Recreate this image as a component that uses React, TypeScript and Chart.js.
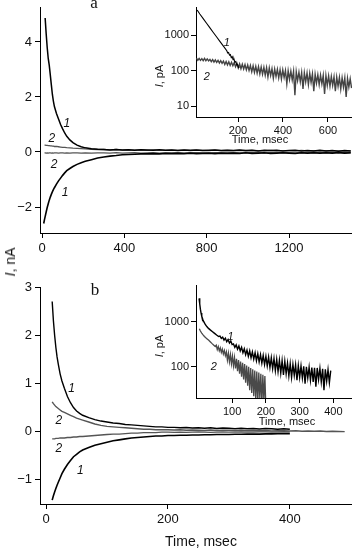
import React, { useEffect, useRef } from "react";
import { Chart, registerables } from "chart.js";

Chart.register(...registerables);

const SANS = "'Liberation Sans', Arial, Helvetica, sans-serif";
const SERIF = "'Liberation Serif', 'Times New Roman', Times, serif";
const INK = "#111";

// ---------------- Panel a (main, nA vs msec) ----------------
const A_TIME = [8, 12, 15, 20, 25, 30, 35, 40, 45, 50, 55, 60, 70, 80, 90, 100, 110, 120, 135, 150, 170, 190, 210, 240, 270,
  300, 330, 360, 390, 420, 450, 480, 510, 540, 570, 600, 630, 660, 690, 720, 750, 780, 810, 840, 870, 900, 930, 960, 990,
  1020, 1050, 1080, 1110, 1140, 1170, 1200, 1230, 1260, 1290, 1320, 1350, 1380, 1410, 1440, 1470, 1500];
const A_UP1 = [null, null, 4.87, 4.3, 3.8, 3.4, 3.15, 2.8, 2.45, 2.1, 1.85, 1.65, 1.4, 1.2, 1.0, 0.84, 0.69, 0.57, 0.44, 0.34, 0.25, 0.19, 0.15, 0.12, 0.1,
  0.09, 0.07, 0.09, 0.07, 0.08, 0.06, 0.08, 0.07, 0.06, 0.08, 0.06, 0.07, 0.05, 0.07, 0.06, 0.07, 0.05, 0.06, 0.07, 0.05,
  0.06, 0.05, 0.07, 0.05, 0.06, 0.04, 0.06, 0.05, 0.06, 0.04, 0.05, 0.06, 0.04, 0.05, 0.04, 0.06, 0.04, 0.05, 0.03, 0.05, 0.04];
const A_UP2 = [null, 0.25, 0.25, 0.24, 0.24, 0.23, 0.23, 0.22, 0.22, 0.21, 0.21, 0.2, 0.2, 0.19, 0.18, 0.17, 0.17, 0.16, 0.15, 0.14, 0.13, 0.12, 0.11, 0.1, 0.09,
  0.09, 0.08, 0.09, 0.07, 0.08, 0.07, 0.08, 0.06, 0.08, 0.07, 0.06, 0.07, 0.06, 0.07, 0.05, 0.07, 0.06, 0.05, 0.07, 0.05,
  0.06, 0.05, 0.06, 0.04, 0.06, 0.05, 0.04, 0.06, 0.04, 0.05, 0.05, 0.04, 0.06, 0.04, 0.05, 0.03, 0.05, 0.04, 0.04, 0.03, 0.04];
const A_LO2 = [null, -0.03, -0.03, -0.04, -0.03, -0.04, -0.03, -0.03, -0.04, -0.03, -0.04, -0.03, -0.03, -0.04, -0.03, -0.03, -0.04, -0.03, -0.04, -0.03, -0.03, -0.04, -0.03, -0.04, -0.03,
  -0.03, -0.04, -0.02, -0.04, -0.03, -0.02, -0.04, -0.03, -0.02, -0.04, -0.03, -0.03, -0.02, -0.04, -0.03, -0.02, -0.03, -0.04, -0.02, -0.03,
  -0.03, -0.02, -0.04, -0.03, -0.02, -0.03, -0.04, -0.02, -0.03, -0.02, -0.03, -0.04, -0.02, -0.03, -0.02, -0.03, -0.03, -0.02, -0.04, -0.02, -0.03];
const A_LO1 = [-2.6, -2.45, -2.35, -2.18, -2.02, -1.88, -1.75, -1.64, -1.54, -1.45, -1.37, -1.3, -1.17, -1.05, -0.95, -0.85, -0.76, -0.68, -0.6, -0.53, -0.45, -0.39, -0.34, -0.28, -0.22,
  -0.18, -0.15, -0.13, -0.1, -0.09, -0.08, -0.07, -0.07, -0.06, -0.07, -0.05, -0.06, -0.05, -0.06, -0.04, -0.06, -0.05, -0.04, -0.06, -0.04,
  -0.05, -0.04, -0.05, -0.03, -0.05, -0.04, -0.03, -0.05, -0.04, -0.03, -0.04, -0.05, -0.03, -0.04, -0.03, -0.04, -0.03, -0.04, -0.02, -0.04, -0.03];
const A_X_TICKS = [0, 400, 800, 1200];
const A_Y_TICKS = [-2, 0, 2, 4];
const A_LABEL_TEXT = ["1", "2", "2", "1"];
const A_LABEL_T = [120, 47, 58, 112];
const A_LABEL_V = [1.02, 0.5, -0.45, -1.48];

// ---------------- Panel b (main, nA vs msec) ----------------
const B_TIME = [8, 10, 12, 14, 16, 18, 20, 23, 26, 30, 35, 40, 45, 50, 55, 60, 70, 80, 90, 100, 110, 120, 130, 140, 150, 160, 170, 180, 190, 200,
  210, 220, 230, 240, 250, 260, 270, 280, 290, 300, 310, 320, 330, 340, 350, 360, 370, 380, 390, 400,
  410, 420, 430, 440, 450, 460, 470, 480, 490];
const B_UP1 = [null, 2.7, 2.3, 2.0, 1.75, 1.55, 1.4, 1.2, 1.05, 0.9, 0.73, 0.6, 0.5, 0.43, 0.38, 0.34, 0.29, 0.25, 0.22, 0.2, 0.18, 0.17, 0.15, 0.14, 0.13, 0.12, 0.11, 0.1, 0.1, 0.09,
  0.09, 0.08, 0.085, 0.075, 0.08, 0.07, 0.08, 0.065, 0.075, 0.07, 0.06, 0.07, 0.06, 0.065, 0.055, 0.065, 0.06, 0.05, 0.06, 0.05,
  null, null, null, null, null, null, null, null, null];
const B_UP2 = [null, 0.62, 0.58, 0.55, 0.52, 0.5, 0.48, 0.45, 0.42, 0.4, 0.37, 0.34, 0.31, 0.28, 0.26, 0.24, 0.2, 0.16, 0.13, 0.11, 0.1, 0.09, 0.08, 0.07, 0.06, 0.05, 0.05, 0.04, 0.04, 0.04,
  0.035, 0.04, 0.03, 0.035, 0.03, 0.025, 0.035, 0.025, 0.03, 0.03, 0.02, 0.03, 0.02, 0.025, 0.02, 0.025, 0.015, 0.02, 0.02, 0.015,
  0.02, 0.01, 0.015, 0.01, 0.015, 0.005, 0.01, 0.005, 0.0];
const B_LO2 = [null, -0.15, -0.15, -0.15, -0.14, -0.14, -0.14, -0.13, -0.13, -0.13, -0.12, -0.12, -0.11, -0.11, -0.1, -0.1, -0.09, -0.08, -0.07, -0.06, -0.05, -0.05, -0.04, -0.03, -0.03, -0.02, -0.02, -0.02, -0.01, -0.01,
  -0.015, -0.01, -0.015, -0.01, -0.005, -0.01, -0.015, -0.01, -0.005, -0.01, -0.01, -0.005, -0.01, -0.01, -0.005, -0.005, -0.01, -0.005, 0.0, -0.005,
  null, null, null, null, null, null, null, null, null];
const B_LO1 = [null, -1.42, -1.33, -1.25, -1.18, -1.11, -1.05, -0.96, -0.87, -0.78, -0.68, -0.6, -0.52, -0.47, -0.42, -0.38, -0.33, -0.28, -0.25, -0.22, -0.19, -0.17, -0.15, -0.13, -0.12, -0.11, -0.1, -0.09, -0.09, -0.08,
  -0.08, -0.075, -0.075, -0.07, -0.07, -0.065, -0.065, -0.06, -0.06, -0.06, -0.055, -0.055, -0.05, -0.05, -0.05, -0.045, -0.045, -0.04, -0.04, -0.04,
  null, null, null, null, null, null, null, null, null];
const B_X_TICKS = [0, 200, 400];
const B_Y_TICKS = [-1, 0, 1, 2, 3];
const B_LABEL_TEXT = ["1", "2", "2", "1"];
const B_LABEL_T = [42, 21, 21, 56];
const B_LABEL_V = [0.9, 0.23, -0.36, -0.8];

// ---------------- Inset a (pA, log) ----------------
const INA1_T = [18, 30, 45, 60, 75, 90, 105, 120, 135, 150, 154, 158, 162, 166, 170, 174, 178, 182, 186, 190, 194, 198, 202, 206];
const INA1_I = [5060, 3900, 2880, 2140, 1590, 1180, 880, 650, 485, 360, 310, 320, 270, 280, 230, 245, 200, 210, 170, 180, 145, 150, 120, 125];
const INA2_T = [15, 21, 27, 33, 39, 45, 51, 57, 63, 69,
  75, 81, 87, 93, 99, 105, 111, 117, 123, 129,
  135, 141, 147, 153, 159, 165, 171, 177, 183, 189,
  195, 201, 207, 213, 219, 225, 231, 237, 243, 249,
  255, 261, 267, 273, 279, 285, 291, 297, 303, 309,
  315, 321, 327, 333, 339, 345, 351, 357, 363, 369,
  375, 381, 387, 393, 399, 405, 411, 417, 423, 429,
  435, 441, 447, 453, 459, 465, 471, 477, 483, 489,
  495, 501, 507, 513, 519, 525, 531, 537, 543, 549,
  555, 561, 567, 573, 579, 585, 591, 597, 603, 609,
  615, 621, 627, 633, 639, 645, 651, 657, 663, 669,
  675, 681, 687, 693, 699, 705];
const INA2_I = [222, 195, 218, 193, 216, 190, 219, 188, 212, 186,
  206, 178, 203, 172, 199, 170, 194, 163, 190, 160,
  184, 148, 180, 144, 176, 139, 170, 136, 166, 128,
  158, 118, 154, 112, 150, 110, 147, 104, 142, 100,
  138, 92, 136, 88, 131, 84, 128, 80, 126, 78,
  122, 74, 120, 66, 118, 72, 112, 60, 110, 68,
  108, 62, 105, 58, 104, 64, 100, 42, 98, 56,
  96, 54, 95, 20, 92, 52, 90, 48, 88, 30,
  86, 48, 85, 40, 83, 46, 80, 26, 78, 44,
  76, 40, 74, 42, 73, 22, 72, 38, 70, 36,
  68, 38, 66, 26, 65, 36, 64, 30, 62, 34,
  62, 18, 60, 34, 58, 32];
const INA_X_TICKS = [200, 400, 600];
const INA_Y_TICKS = [10, 100, 1000];
const INA_LABEL_TEXT = ["1", "2"];
const INA_LABEL_T = [150, 61];
const INA_LABEL_V = [596, 66];

// ---------------- Inset b (pA, log) ----------------
const INB1_T = [2, 4, 6, 8, 10, 13, 16, 20, 25, 30, 36, 42, 48, 54, 60,
  64, 68, 72, 76, 80, 84, 88, 92, 96, 100,
  104, 108, 112, 116, 120, 124, 128, 132, 136, 140,
  144, 148, 152, 156, 160, 164, 168, 172, 176, 180,
  184, 188, 192, 196, 200, 204, 208, 212, 216, 220,
  224, 228, 232, 236, 240, 244, 248, 252, 256, 260,
  264, 268, 272, 276, 280, 284, 288, 292, 296, 300,
  304, 308, 312, 316, 320, 324, 328, 332, 336, 340,
  344, 348, 352, 356, 360, 364, 368, 372, 376, 380,
  384, 388, 392];
const INB1_I = [3300, 2500, 1900, 1550, 1320, 1130, 1000, 880, 780, 710, 650, 600, 550, 505, 470,
  480, 425, 455, 390, 430, 360, 400, 335, 372, 310,
  320, 268, 305, 245, 290, 225, 270, 205, 250, 185,
  235, 170, 225, 158, 214, 148, 205, 136, 195, 128,
  185, 120, 178, 112, 170, 104, 164, 96, 158, 90,
  152, 82, 146, 78, 140, 72, 136, 66, 132, 70,
  120, 62, 116, 58, 112, 64, 110, 50, 106, 58,
  104, 56, 102, 42, 100, 56, 98, 50, 96, 46,
  95, 36, 94, 52, 92, 46, 90, 30, 88, 48,
  86, 44, 82];
const INB2_T = [3, 6, 10, 14, 18, 22, 26, 30, 35, 40, 45, 50,
  53, 56, 59, 62, 65, 68, 71, 74, 77, 80,
  83, 86, 89, 92, 95, 98, 101, 104, 107, 110,
  113, 116, 119, 122, 125, 128, 131, 134, 137, 140,
  143, 146, 149, 152, 155, 158, 161, 164, 167, 170,
  173, 176, 179, 182, 185, 188, 191, 194, 197, 200];
const INB2_I = [700, 620, 560, 510, 470, 440, 415, 390, 360, 330, 305, 282,
  300, 240, 280, 225, 262, 208, 246, 192, 230, 176,
  214, 140, 200, 128, 186, 116, 172, 104, 160, 92,
  150, 80, 140, 70, 130, 60, 122, 52, 114, 44,
  106, 38, 100, 30, 94, 26, 88, 22, 82, 18,
  78, 16, 74, 20, 70, 14, 66, 18, 62, 12];
const INB_X_TICKS = [100, 200, 300, 400];
const INB_Y_TICKS = [100, 1000];
const INB_LABEL_TEXT = ["1", "2"];
const INB_LABEL_T = [95, 46];
const INB_LABEL_V = [470, 98];

// ---------------- helpers ----------------
type Pt = { x: number; y: number | null };
const zip = (t: number[], v: (number | null)[]): Pt[] => v.map((y, i) => ({ x: t[i], y }));
const fmtTick = (v: number) => (v < 0 ? "\u2212" + Math.abs(v) : String(v));
const labelsOf = (text: string[], t: number[], v: number[]) => text.map((s, i) => ({ text: s, x: t[i], y: v[i] }));

const curveLabels = {
  id: "curveLabels",
  afterDatasetsDraw(chart: any, _args: any, opts: any) {
    const items = (opts && opts.items) || [];
    const { ctx, scales } = chart;
    ctx.save();
    ctx.font = `italic ${opts.size}px ${SANS}`;
    ctx.fillStyle = INK;
    ctx.textAlign = "center";
    ctx.textBaseline = "middle";
    for (const it of items) {
      ctx.fillText(it.text, scales.x.getPixelForValue(it.x), scales.y.getPixelForValue(it.y));
    }
    ctx.restore();
  },
};

function axis(o: {
  vertical: boolean; type?: string; min: number; max: number; ticks: number[];
  size: number; font: number; tickLength: number; pad: number;
}) {
  return {
    type: o.type || "linear",
    position: o.vertical ? "left" : "bottom",
    min: o.min,
    max: o.max,
    afterBuildTicks: (s: any) => {
      s.ticks = o.ticks.map((v) => ({ value: v }));
    },
    afterFit: (s: any) => {
      if (o.vertical) s.width = o.size;
      else s.height = o.size;
      s.paddingTop = 0;
      s.paddingBottom = 0;
      s.paddingLeft = 0;
      s.paddingRight = 0;
    },
    grid: { display: true, drawOnChartArea: false, drawTicks: true, tickLength: o.tickLength, color: "#000", lineWidth: 1 },
    border: { display: true, color: "#000", width: 1 },
    ticks: {
      font: { family: SANS, size: o.font },
      color: INK,
      padding: o.pad,
      maxRotation: 0,
      minRotation: 0,
      autoSkip: false,
      callback: (v: any) => fmtTick(Number(v)),
    },
  };
}

function ds(data: Pt[], color: string, width: number) {
  return { data, borderColor: color, borderWidth: width, pointRadius: 0, tension: 0, fill: false, spanGaps: false };
}

function config(o: { datasets: any[]; x: any; y: any; padTop: number; labels: any[]; labelSize: number }) {
  return {
    type: "line",
    data: { datasets: o.datasets },
    options: {
      responsive: false,
      maintainAspectRatio: false,
      animation: false,
      devicePixelRatio: 1,
      events: [],
      layout: { padding: { top: o.padTop, left: 0, right: 0, bottom: 0 }, autoPadding: false },
      plugins: {
        legend: { display: false },
        tooltip: { enabled: false },
        curveLabels: { items: o.labels, size: o.labelSize },
      },
      scales: { x: o.x, y: o.y },
    },
    plugins: [curveLabels],
  } as any;
}

const mainA = () =>
  config({
    datasets: [
      ds(zip(A_TIME, A_UP1), "#000", 1.5),
      ds(zip(A_TIME, A_LO1), "#000", 1.6),
      ds(zip(A_TIME, A_UP2), "#555", 1.3),
      ds(zip(A_TIME, A_LO2), "#555", 1.3),
    ],
    x: axis({ vertical: false, min: -10, max: 1506, ticks: A_X_TICKS, size: 29, font: 13, tickLength: 5, pad: 3 }),
    y: axis({ vertical: true, min: -2.945, max: 5.27, ticks: A_Y_TICKS, size: 40, font: 13, tickLength: 5, pad: 3 }),
    padTop: 7,
    labels: labelsOf(A_LABEL_TEXT, A_LABEL_T, A_LABEL_V),
    labelSize: 12,
  });

const mainB = () =>
  config({
    datasets: [
      ds(zip(B_TIME, B_UP1), "#000", 1.4),
      ds(zip(B_TIME, B_LO1), "#000", 1.6),
      ds(zip(B_TIME, B_UP2), "#555", 1.4),
      ds(zip(B_TIME, B_LO2), "#555", 1.4),
    ],
    x: axis({ vertical: false, min: -10, max: 502, ticks: B_X_TICKS, size: 45, font: 13, tickLength: 5, pad: 3 }),
    y: axis({ vertical: true, min: -1.5, max: 3, ticks: B_Y_TICKS, size: 40, font: 13, tickLength: 5, pad: 3 }),
    padTop: 17,
    labels: labelsOf(B_LABEL_TEXT, B_LABEL_T, B_LABEL_V),
    labelSize: 12,
  });

const insetA = () =>
  config({
    datasets: [ds(zip(INA1_T, INA1_I), "#000", 1.1), ds(zip(INA2_T, INA2_I), "#444", 1.4)],
    x: axis({ vertical: false, min: 13, max: 707, ticks: INA_X_TICKS, size: 33, font: 11, tickLength: 5, pad: 2 }),
    y: axis({ vertical: true, type: "logarithmic", min: 4.9, max: 6150, ticks: INA_Y_TICKS, size: 56, font: 11, tickLength: 5, pad: 2 }),
    padTop: 7,
    labels: labelsOf(INA_LABEL_TEXT, INA_LABEL_T, INA_LABEL_V),
    labelSize: 11,
  });

const insetB = () =>
  config({
    datasets: [ds(zip(INB1_T, INB1_I), "#000", 1.4), ds(zip(INB2_T, INB2_I), "#4a4a4a", 1.3)],
    x: axis({ vertical: false, min: -7, max: 455, ticks: INB_X_TICKS, size: 30, font: 11, tickLength: 5, pad: 2 }),
    y: axis({ vertical: true, type: "logarithmic", min: 20.2, max: 6530, ticks: INB_Y_TICKS, size: 56, font: 11, tickLength: 5, pad: 2 }),
    padTop: 7,
    labels: labelsOf(INB_LABEL_TEXT, INB_LABEL_T, INB_LABEL_V),
    labelSize: 11,
  });

function ChartCanvas(props: { left: number; top: number; width: number; height: number; make: () => any }) {
  const ref = useRef<HTMLCanvasElement>(null);
  useEffect(() => {
    const chart = new Chart(ref.current as HTMLCanvasElement, props.make());
    return () => chart.destroy();
  }, []);
  return (
    <canvas
      ref={ref}
      width={props.width}
      height={props.height}
      style={{ position: "absolute", left: props.left, top: props.top, width: props.width, height: props.height }}
    />
  );
}

function Txt(props: { x: number; y: number; size: number; serif?: boolean; children: React.ReactNode }) {
  const k = props.serif ? 0.8375 : 0.8465;
  return (
    <div
      style={{
        position: "absolute",
        left: props.x,
        top: props.y - k * props.size,
        width: "max-content",
        transform: "translateX(-50%)",
        fontFamily: props.serif ? SERIF : SANS,
        fontSize: props.size,
        lineHeight: `${props.size}px`,
        whiteSpace: "nowrap",
        color: INK,
      }}
    >
      {props.children}
    </div>
  );
}

function VTxt(props: { x: number; y: number; size: number; children: React.ReactNode }) {
  return (
    <div
      style={{
        position: "absolute",
        left: props.x,
        top: props.y,
        width: "max-content",
        transform: "translate(-50%, -50%) rotate(-90deg)",
        fontFamily: SANS,
        fontSize: props.size,
        lineHeight: `${props.size}px`,
        whiteSpace: "nowrap",
        color: INK,
      }}
    >
      {props.children}
    </div>
  );
}

export default function App() {
  return (
    <div style={{ position: "absolute", left: 0, top: 0, width: 352, height: 549, background: "#fff", overflow: "hidden" }}>
      <ChartCanvas left={0} top={0} width={352} height={262} make={mainA} />
      <ChartCanvas left={0} top={270} width={352} height={279} make={mainB} />
      <ChartCanvas left={140} top={0} width={212} height={150} make={insetA} />
      <ChartCanvas left={140} top={278} width={212} height={150} make={insetB} />
      <Txt x={94} y={8.5} size={17} serif>a</Txt>
      <Txt x={95} y={295.5} size={17} serif>b</Txt>
      <VTxt x={10} y={262} size={14}><i>I</i>, nA</VTxt>
      <VTxt x={159} y={76} size={11}><i>I</i>, pA</VTxt>
      <VTxt x={159} y={346} size={11}><i>I</i>, pA</VTxt>
      <Txt x={260} y={143} size={11}>Time, msec</Txt>
      <Txt x={287} y={425} size={11}>Time, msec</Txt>
      <Txt x={201} y={546} size={14}>Time, msec</Txt>
    </div>
  );
}
